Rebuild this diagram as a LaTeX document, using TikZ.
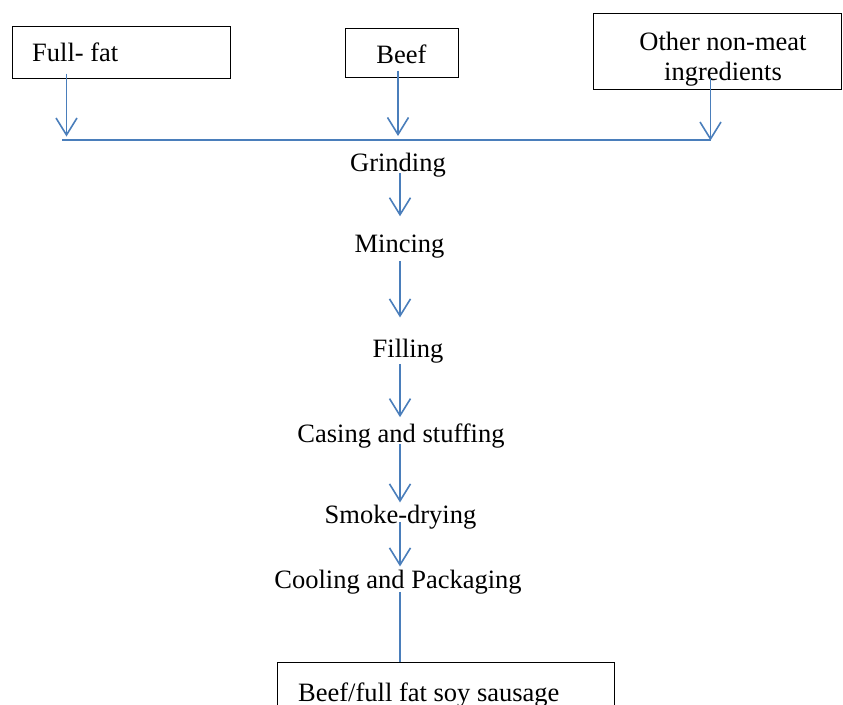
\documentclass[tikz,border=0pt]{standalone}
\usepackage{fontspec}
\setmainfont{Liberation Serif}
\usetikzlibrary{calc,positioning,arrows.meta}
\definecolor{flowblue}{RGB}{74,126,187}
\tikzset{
  input box/.style={
    draw,
    line width=1pt,
    inner sep=0pt
  },
  step text/.style={
    inner sep=0pt,
    font=\fontsize{26.5}{30.5}\selectfont
  },
  flow/.style={
    flowblue,
    line width=1.6pt,
    -{Straight Barb[length=17pt,width=21pt]}
  },
  flow line/.style={
    flowblue,
    line width=1.6pt
  }
}

\begin{document}
\begin{tikzpicture}[x=1pt,y=-1pt]
  \useasboundingbox (0,0) rectangle (843,704);

  % ingredients
  \node (full_fat) [input box, minimum width=218pt, minimum height=52pt] at (121,52) {};
  \node (full_fat_label) [step text, anchor=base west] at (32,61) {Full- fat};

  \node (beef) [input box, minimum width=113pt, minimum height=49pt] at (401.5,52.5) {};
  \node (beef_label) [step text, anchor=base] at (401.5,63) {Beef};

  \node (other) [input box, minimum width=248pt, minimum height=76pt] at (717,51) {};
  \node (other_label) [step text, align=center] at (723,59) {Other non-meat\\ingredients};

  \coordinate (bar_w) at (62,140);
  \coordinate (bar_e) at (711,140);
  \draw[flow line] (bar_w) -- (bar_e);

  \draw[flow] ([xshift=55pt,yshift=5pt]full_fat.south west) -- ++(0,63);
  \draw[flow] ([xshift=-3.5pt,yshift=7pt]beef.south) -- ++(0,65.5);
  \draw[flow] ([xshift=118pt,yshift=12pt]other.south west) -- ++(0,63);

  % process steps
  \coordinate (spine) at (400,0);
  \node (grinding) [step text, anchor=base] at (398,171) {Grinding};
  \node (mincing) [step text, anchor=base] at (399.5,252) {Mincing};
  \node (filling) [step text, anchor=base] at (408,357) {Filling};
  \node (casing) [step text, anchor=base] at (401,442) {Casing and stuffing};
  \node (smoke) [step text, anchor=base] at (400.5,523) {Smoke-drying};
  \node (cooling) [step text, anchor=base] at (398,588) {Cooling and Packaging};

  \node (product) [input box, minimum width=337pt, minimum height=58pt] at (445.5,691) {};
  \node (product_label) [step text, anchor=base west] at (298,701) {Beef/full fat soy sausage};

  \draw[flow, shorten <=-4pt, shorten >=18pt] (grinding.south -| spine) -- (mincing.north -| spine);
  \draw[flow, shorten <=3pt, shorten >=21pt] (mincing.south -| spine) -- (filling.north -| spine);
  \draw[flow, shorten <=1pt, shorten >=6pt] (filling.south -| spine) -- (casing.north -| spine);
  \draw[flow, shorten <=-4pt, shorten >=2pt] (casing.south -| spine) -- (smoke.north -| spine);
  \draw[flow, shorten <=-7pt, shorten >=3pt] (smoke.south -| spine) -- (cooling.north -| spine);
  \draw[flow line, shorten <=-2pt] (cooling.south -| spine) -- (product.north -| spine);
\end{tikzpicture}
\end{document}
